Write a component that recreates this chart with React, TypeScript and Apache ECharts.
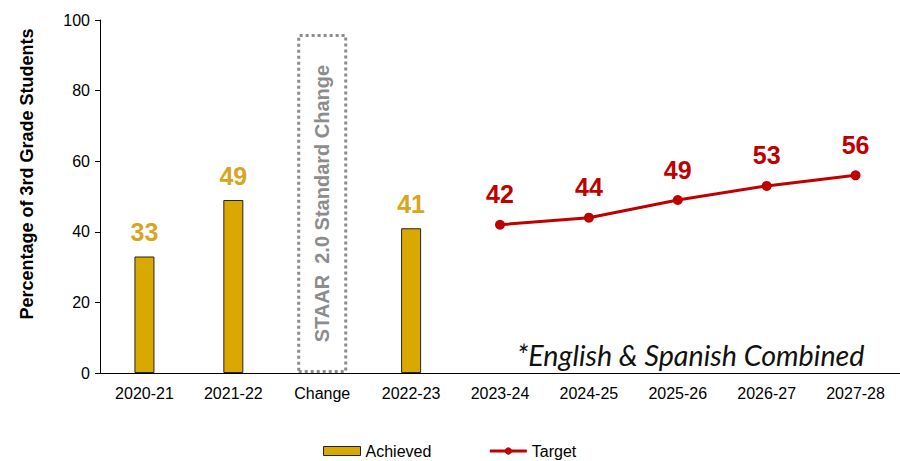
import React, { useEffect, useRef } from "react";
import * as echarts from "echarts";

const categories = ["2020-21", "2021-22", "Change", "2022-23", "2023-24", "2024-25", "2025-26", "2026-27", "2027-28"];
const achieved = [33, 49, null, 41, null, null, null, null, null];
const target = [null, null, null, null, 42, 44, 49, 53, 56];
const changeBox = [null, null, 96, null, null, null, null, null, null];
const yTicks = { min: 0, max: 100, interval: 20 };

export default function App() {
  const ref = useRef<HTMLDivElement>(null);
  useEffect(() => {
    const chart = echarts.init(ref.current!, null, { renderer: "svg" });
    chart.setOption({
      animation: false,
      textStyle: { fontFamily: "Liberation Sans, Arial, sans-serif" },
      grid: { left: 100, right: 0, top: 20, height: 353 },
      legend: {
        top: 443,
        left: 323,
        itemGap: 57,
        itemWidth: 37,
        itemHeight: 9,
        padding: 0,
        textStyle: { fontSize: 16, color: "#000", fontFamily: "Liberation Sans, Arial, sans-serif" },
        data: [
          { name: "Achieved", icon: "rect", itemStyle: { color: "#DAA900", borderColor: "#222", borderWidth: 1 } },
          { name: "Target", lineStyle: { width: 3, color: "#C00000" }, itemStyle: { color: "#C00000" } },
        ],
      },
      xAxis: [
        {
          type: "category",
          data: categories,
          axisLine: { lineStyle: { color: "#000", width: 1 } },
          axisTick: { show: false },
          axisLabel: { color: "#000", fontSize: 16, margin: 12 },
        },
        {
          type: "category",
          data: categories,
          show: false,
        },
      ],
      yAxis: {
        type: "value",
        min: yTicks.min,
        max: yTicks.max,
        interval: yTicks.interval,
        splitLine: { show: false },
        axisLine: { show: true, lineStyle: { color: "#000" } },
        axisTick: { show: true, length: 5, lineStyle: { color: "#000" } },
        axisLabel: { color: "#000", fontSize: 16, margin: 10 },
      },
      series: [
        {
          name: "Achieved",
          type: "bar",
          data: achieved,
          barWidth: 20,
          itemStyle: { color: "#DAA900", borderColor: "#222", borderWidth: 1 },
          label: {
            show: true,
            position: "top",
            distance: 12,
            color: "#D9A520",
            fontSize: 25,
            fontWeight: "bold",
          },
        },
        {
          name: "Change",
          type: "bar",
          xAxisIndex: 1,
          data: changeBox,
          barWidth: 50,
          itemStyle: { color: "rgba(0,0,0,0)", borderColor: "#8c8c8c", borderWidth: 3, borderType: [3, 3] },
          label: {
            show: true,
            position: "inside",
            rotate: 90,
            formatter: "STAAR  2.0 Standard Change",
            color: "#8c8c8c",
            fontSize: 20,
            fontWeight: "bold",
          },
        },
        {
          name: "Target",
          type: "line",
          data: target,
          color: "#C00000",
          lineStyle: { color: "#C00000", width: 3 },
          itemStyle: { color: "#C00000" },
          symbol: "circle",
          symbolSize: 10,
          label: {
            show: true,
            position: "top",
            distance: 13,
            color: "#C00000",
            fontSize: 25,
            fontWeight: "bold",
          },
        },
      ],
      graphic: [
        {
          type: "text",
          x: 27,
          y: 174,
          rotation: Math.PI / 2,
          style: {
            text: "Percentage of 3rd Grade Students",
            fontSize: 18,
            fontWeight: "bold",
            fill: "#000",
            align: "center",
            verticalAlign: "middle",
            fontFamily: "Liberation Sans, Arial, sans-serif",
          },
        },
        {
          type: "text",
          x: 517,
          y: 355,
          style: {
            text: "*English & Spanish Combined",
            fontSize: 28.7,
            fontStyle: "italic",
            fill: "#111",
            align: "left",
            verticalAlign: "middle",
            fontFamily: "Lato, Open Sans, sans-serif",
          },
        },
      ],
    });
    return () => chart.dispose();
  }, []);
  return <div ref={ref} style={{ width: 900, height: 461, position: "absolute", left: 0, top: 0 }} />;
}
